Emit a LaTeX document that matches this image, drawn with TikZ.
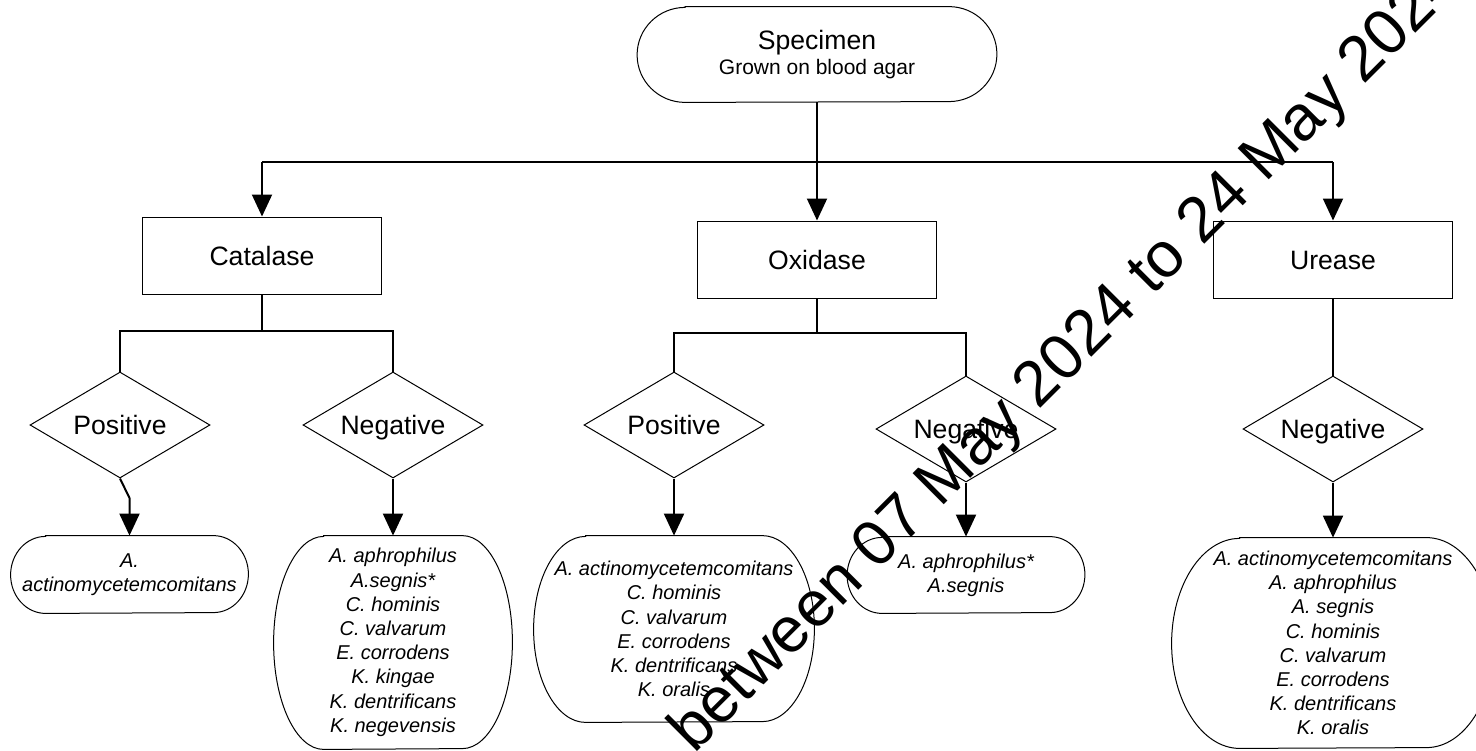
\documentclass[tikz,border=0pt]{standalone}
\usepackage{fontspec}
\setmainfont{Liberation Sans}
\usetikzlibrary{arrows.meta,shapes.geometric,calc}
\newcommand{\termline}[3]{%
  \draw[thinline] ($(#1.north west)+(#2,0)$) -- ($(#1.north east)+(-#2,0)$)
    arc[start angle=90,end angle=-90,x radius=#2,y radius=#3]
    -- ($(#1.south west)+(#2,0)$)
    arc[start angle=270,end angle=90,x radius=#2,y radius=#3] -- cycle;}
\begin{document}
\begin{tikzpicture}[x=0.5pt,y=0.5pt,
  thinline/.style={line width=0.5pt},
  conn/.style={line width=1pt},
  arr/.style={conn,-{Triangle[length=11pt,width=10pt]}},
  testbox/.style={draw,thinline,minimum width=119.5pt,minimum height=38.5pt,inner sep=0pt,text height=9.5pt,text depth=0pt,font=\fontsize{13.3}{16}\selectfont},
  result/.style={draw,thinline,shape=diamond,shape aspect=3,minimum width=90pt,minimum height=53pt,inner sep=0pt,text height=9.5pt,text depth=0pt,font=\fontsize{13.3}{16}\selectfont},
  term/.style={inner sep=0pt,align=center},
  listtext/.style={term,font=\fontsize{10}{12.1}\selectfont\itshape}]
\useasboundingbox (0,0) rectangle (1476,-750);

% top
\node[term,minimum width=179.5pt,minimum height=47.5pt,font=\fontsize{13.3}{12.5}\selectfont] (spec) at (817,-54.5)
  {Specimen\\{\fontsize{10.5}{12.5}\selectfont Grown on blood agar}};
\termline{spec}{48}{47.5}

% tests
\node[testbox] (cat) at (262,-255.5) {Catalase};
\node[testbox] (ox) at (817,-259.5) {Oxidase};
\node[testbox] (ure) at (1333,-259.5) {Urease};

% results
\node[result] (catpos) at (120,-425) {Positive};
\node[result] (catneg) at (393,-425) {Negative};
\node[result] (oxpos) at (674,-425) {Positive};
\node[result] (oxneg) at (966,-429) {Negative};
\node[result] (ureneg) at (1333,-429) {Negative};

% lists
\node[listtext,minimum width=118.5pt,minimum height=38.5pt] (catposlist) at (129.5,-574.5)
  {A.\\actinomycetemcomitans};
\termline{catposlist}{35}{38.5}
\node[listtext,minimum width=119pt,minimum height=106.5pt] (catneglist) at (393,-642.5)
  {A. aphrophilus\\A.segnis*\\C. hominis\\C. valvarum\\E. corrodens\\K. kingae\\K. dentrificans\\K. negevensis};
\termline{catneglist}{50}{106.5}
\node[listtext,minimum width=140pt,minimum height=93pt] (oxposlist) at (674,-629)
  {A. actinomycetemcomitans\\C. hominis\\C. valvarum\\E. corrodens\\K. dentrificans\\K. oralis};
\termline{oxposlist}{52}{93}
\node[listtext,minimum width=118.5pt,minimum height=38pt] (oxneglist) at (966,-575)
  {A. aphrophilus*\\A.segnis};
\termline{oxneglist}{35}{38}
\node[listtext,minimum width=161pt,minimum height=105pt] (urelist) at (1333,-643)
  {A. actinomycetemcomitans\\A. aphrophilus\\A. segnis\\C. hominis\\C. valvarum\\E. corrodens\\K. dentrificans\\K. oralis};
\termline{urelist}{68}{105}

% connectors
\coordinate (j) at (817,-162);
\draw[arr] (spec.south) -- (ox.north);
\draw[conn] (cat.north |- j) -- (ure.north |- j);
\draw[arr] (cat.north |- j) -- (cat.north);
\draw[arr] (ure.north |- j) -- (ure.north);

\coordinate (cj) at (262,-331);
\draw[conn] (cat.south) -- (cj);
\draw[conn] (catpos.north) -- (catpos.north |- cj) -- (catneg.north |- cj) -- (catneg.north);
\coordinate (kink) at (129.5,-498);
\draw[arr] (catpos.south) -- (kink) -- (catposlist.north);
\draw[arr] (catneg.south) -- (catneglist.north);

\coordinate (oj) at (817,-333);
\draw[conn] (ox.south) -- (oj);
\draw[conn] (oxpos.north) -- (oxpos.north |- oj) -- (oxneg.north |- oj) -- (oxneg.north);
\draw[arr] (oxpos.south) -- (oxposlist.north);
\draw[arr] (oxneg.south) -- (oxneglist.north);

\draw[conn] (ure.south) -- (ureneg.north);
\draw[arr] (ureneg.south) -- (urelist.north);

% watermark
\node[rotate=45,anchor=base west,inner sep=0pt,font=\fontsize{32}{38}\selectfont] (wm) at (694,-755)
  {between 07 May 2024 to 24 May 2024};
\end{tikzpicture}
\end{document}
